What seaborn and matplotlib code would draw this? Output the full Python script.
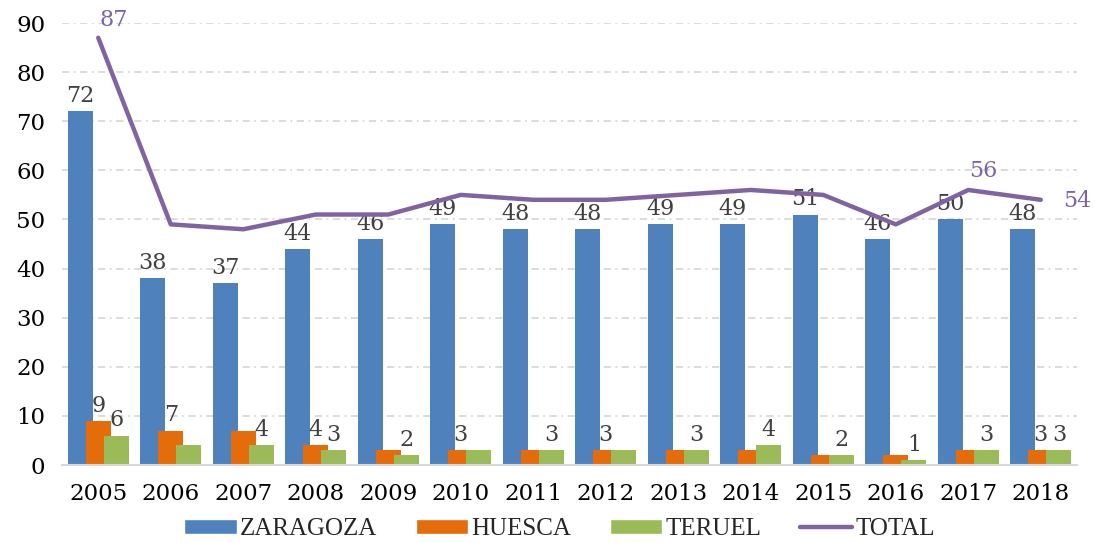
import pandas as pd
import numpy as np
import matplotlib.pyplot as plt
import seaborn as sns
from matplotlib.patches import Patch
from matplotlib.lines import Line2D

# ------------------------------------------
# datos
# ------------------------------------------
years = ['2005', '2006', '2007', '2008', '2009', '2010', '2011',
         '2012', '2013', '2014', '2015', '2016', '2017', '2018']
zaragoza = [72, 38, 37, 44, 46, 49, 48, 48, 49, 49, 51, 46, 50, 48]
huesca = [9, 7, 7, 4, 3, 3, 3, 3, 3, 3, 2, 2, 3, 3]
teruel = [6, 4, 4, 3, 2, 3, 3, 3, 3, 4, 2, 1, 3, 3]
total = [87, 49, 48, 51, 51, 55, 54, 54, 55, 56, 55, 49, 56, 54]

provincias = ['ZARAGOZA', 'HUESCA', 'TERUEL']
# años con etiqueta visible en el original (Excel oculta las solapadas)
huesca_labeled = ['2005', '2006', '2008', '2010', '2012', '2018']
teruel_labeled = ['2005', '2007', '2008', '2009', '2011', '2013', '2014',
                  '2015', '2016', '2017', '2018']
total_labeled = ['2005', '2017', '2018']

colors = {'ZARAGOZA': '#4F81BD', 'HUESCA': '#E46C0A', 'TERUEL': '#9BBB59'}
line_color = '#8064A2'
total_text = '#7A66A6'
label_color = '#404040'

df = pd.DataFrame({
    'year': years * 3,
    'prov': ['ZARAGOZA'] * 14 + ['HUESCA'] * 14 + ['TERUEL'] * 14,
    'value': zaragoza + huesca + teruel,
})

# ------------------------------------------
# figura
# ------------------------------------------
sns.set_theme(style='white')
plt.rcParams['font.family'] = ['DejaVu Serif']

fig = plt.figure(figsize=(10.97, 5.43), dpi=100)
ax = fig.add_axes([62 / 1097, 78 / 543, 1015 / 1097, 442 / 543])

sns.barplot(data=df, x='year', y='value', hue='prov', hue_order=provincias,
            palette=colors, saturation=1, errorbar=None, dodge=True,
            legend=False, ax=ax)

# barras solapadas como en Excel
bw, off = 0.345, 0.25
for i, cont in enumerate(ax.containers):
    for j, p in enumerate(cont.patches):
        p.set_width(bw)
        p.set_x(j + (i - 1) * off - bw / 2)
        p.set_edgecolor('none')

sns.lineplot(x=np.arange(len(years)), y=total, color=line_color, linewidth=3.2,
             sort=False, ax=ax, zorder=5)

# etiquetas de barras
series = {'ZARAGOZA': (zaragoza, years), 'HUESCA': (huesca, huesca_labeled),
          'TERUEL': (teruel, teruel_labeled)}
for i, name in enumerate(provincias):
    vals, shown = series[name]
    for j, y in enumerate(years):
        if y in shown:
            ax.annotate(str(vals[j]), (j + (i - 1) * off, vals[j]),
                        xytext=(0, 3), textcoords='offset points',
                        ha='center', va='bottom', fontsize=16,
                        color=label_color)

# etiquetas del total
offsets = {'2005': (11, 13), '2017': (11, 14), '2018': (26, -1)}
for j, y in enumerate(years):
    if y in total_labeled:
        ax.annotate(str(total[j]), (j, total[j]), xytext=offsets[y],
                    textcoords='offset points', ha='center', va='center',
                    fontsize=16, color=total_text, annotation_clip=False)

ax.set_xlim(-0.5, len(years) - 0.5)
ax.set_ylim(0, 90)
ax.set_yticks(range(0, 91, 10))
ax.set_xlabel('')
ax.set_ylabel('')
ax.tick_params(axis='y', labelsize=16.5, pad=12, length=0, colors='#000000')
ax.tick_params(axis='x', labelsize=16.5, pad=13, length=0, colors='#000000')

ax.grid(axis='y', color='#D9D9D9', linewidth=1.3,
        linestyle=(0, (4, 2.5, 1, 2.5)))
ax.set_axisbelow(True)
for s in ['top', 'right', 'left']:
    ax.spines[s].set_visible(False)
ax.spines['bottom'].set_color('#D9D9D9')
ax.spines['bottom'].set_linewidth(1.5)

handles = [Patch(facecolor=colors[p], label=p) for p in provincias]
handles.append(Line2D([], [], color=line_color, linewidth=3.2, label='TOTAL'))
fig.legend(handles=handles, loc='center', bbox_to_anchor=(0.51, 0.025),
           ncol=4, frameon=False, handlelength=2.1, handleheight=0.5,
           handletextpad=0.12, columnspacing=1.55,
           prop={'family': 'Liberation Serif', 'size': 18})

fig.savefig('out.png', dpi=100)
